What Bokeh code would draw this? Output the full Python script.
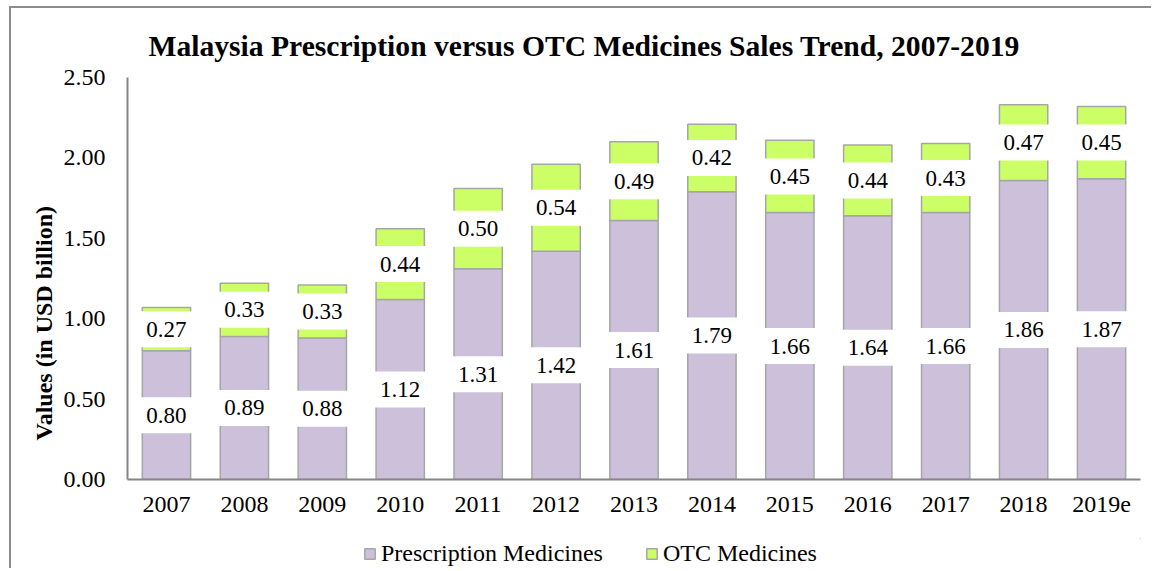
from bokeh.plotting import figure
from bokeh.layouts import column
from bokeh.models import (ColumnDataSource, FactorRange, Range1d, Legend, LegendItem,
                          LabelSet, Title, FixedTicker, NumeralTickFormatter)
from bokeh.embed import file_html
from bokeh.resources import INLINE

years = ["2007", "2008", "2009", "2010", "2011", "2012", "2013", "2014",
         "2015", "2016", "2017", "2018", "2019e"]
prescription = [0.80, 0.89, 0.88, 1.12, 1.31, 1.42, 1.61, 1.79, 1.66, 1.64, 1.66, 1.86, 1.87]
otc = [0.27, 0.33, 0.33, 0.44, 0.50, 0.54, 0.49, 0.42, 0.45, 0.44, 0.43, 0.47, 0.45]
series_names = ["Prescription Medicines", "OTC Medicines"]
y_ticks = [0.0, 0.5, 1.0, 1.5, 2.0, 2.5]

FONT = "Liberation Serif"
C_RX = "#CCC0DA"
C_OTC = "#CCFF66"
EDGE = "#A6A6A6"
AXIS = "#868686"

src = ColumnDataSource(dict(
    year=years,
    rx=prescription,
    otc=otc,
    rx_mid=[v / 2 for v in prescription],
    otc_mid=[a + b / 2 for a, b in zip(prescription, otc)],
    rx_lbl=[f"{v:.2f}" for v in prescription],
    otc_lbl=[f"{v:.2f}" for v in otc],
))

p = figure(x_range=FactorRange(factors=years, range_padding=0.0), y_range=Range1d(0, 2.5),
           width=1140, height=530, output_backend="svg", toolbar_location=None,
           min_border_left=116, min_border_right=11, min_border_top=69, min_border_bottom=59)

r = p.vbar_stack(["rx", "otc"], x="year", width=0.62, source=src,
                 fill_color=[C_RX, C_OTC], line_color=EDGE, line_width=1.5)

for ycol in ("rx_mid", "otc_mid"):
    p.rect(x="year", y=ycol, width=52, height=36, width_units="screen", height_units="screen",
           source=src, fill_color="white", line_color=None)

lbl_kw = dict(text_font={"value": FONT}, text_font_size="23px", text_color="black",
              text_align="center", text_baseline="middle")
p.add_layout(LabelSet(x="year", y="rx_mid", text="rx_lbl", source=src, **lbl_kw))
p.add_layout(LabelSet(x="year", y="otc_mid", text="otc_lbl", source=src, **lbl_kw))

p.title.text = "Malaysia Prescription versus OTC Medicines Sales Trend, 2007-2019"
p.title.text_font = FONT
p.title.text_font_size = "29.6px"
p.title.text_font_style = "bold"
p.title.text_color = "black"
p.title.align = "left"
p.title.offset = 21
p.title.standoff = 31

ytitle = Title(text="Values (in USD billion)", align="left", offset=39,
               text_font=FONT, text_font_size="24px", text_font_style="bold",
               text_color="black", standoff=7)
p.add_layout(ytitle, "left")

p.grid.visible = False
p.outline_line_color = None
p.background_fill_color = "white"

for ax in (p.xaxis[0], p.yaxis[0]):
    ax.axis_line_color = AXIS
    ax.axis_line_width = 2
    ax.major_tick_line_color = None
    ax.minor_tick_line_color = None
    ax.major_label_text_font = FONT
    ax.major_label_text_font_size = "24px"
    ax.major_label_text_color = "black"

p.yaxis.ticker = FixedTicker(ticks=y_ticks)
p.yaxis.formatter = NumeralTickFormatter(format="0.00")
p.yaxis.major_label_standoff = 16
p.xaxis.major_label_standoff = 11

# legend strip
p2 = figure(width=1140, height=30, output_backend="svg", toolbar_location=None,
            x_range=Range1d(0, 1), y_range=Range1d(0, 1),
            x_axis_location=None, y_axis_location=None,
            min_border_left=0, min_border_right=0, min_border_top=0, min_border_bottom=0)
p2.grid.visible = False
p2.outline_line_color = None
g1 = p2.vbar(x=[50], bottom=[50], top=[50], width=0, fill_color=C_RX,
             line_color=EDGE, line_width=1.5)
g2 = p2.vbar(x=[50], bottom=[50], top=[50], width=0, fill_color=C_OTC,
             line_color=EDGE, line_width=1.5)
legend = Legend(items=[LegendItem(label=series_names[0], renderers=[g1]),
                       LegendItem(label=series_names[1], renderers=[g2])],
                orientation="horizontal", location=(236, 1),
                label_text_font=FONT, label_text_font_size="24px", label_text_color="black",
                glyph_width=13, glyph_height=13, label_standoff=5, spacing=42,
                border_line_color=None, background_fill_alpha=0, padding=0, margin=0)
p2.add_layout(legend)

layout = column(p, p2, spacing=0)
layout.styles = {"border-left": "2px solid #8C8C8C", "border-top": "2px solid #8C8C8C",
                 "margin-left": "9px", "margin-top": "6px"}

open("out.html", "w").write(file_html(layout, INLINE))
